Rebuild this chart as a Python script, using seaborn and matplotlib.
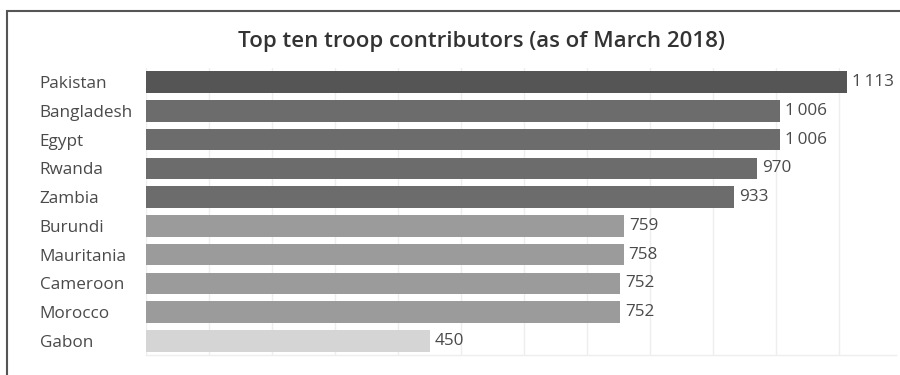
import matplotlib
matplotlib.use("Agg")
import matplotlib.pyplot as plt
import seaborn as sns
import pandas as pd
from matplotlib.patches import Rectangle

countries = ["Pakistan", "Bangladesh", "Egypt", "Rwanda", "Zambia",
             "Burundi", "Mauritania", "Cameroon", "Morocco", "Gabon"]
troops = [1113, 1006, 1006, 970, 933, 759, 758, 752, 752, 450]
groups = ["g1", "g2", "g2", "g2", "g2", "g3", "g3", "g3", "g3", "g4"]
group_colors = {"g1": "#555555", "g2": "#6c6c6c", "g3": "#9b9b9b", "g4": "#d5d5d5"}
value_labels = ["1\u2009113", "1\u2009006", "1\u2009006", "970", "933",
                "759", "758", "752", "752", "450"]
title = "Top ten troop contributors (as of March 2018)"

df = pd.DataFrame({"country": countries, "troops": troops, "group": groups})

sns.set_theme(style="white")
plt.rcParams["font.family"] = ["Open Sans", "DejaVu Sans"]

W, H = 900, 375
fig = plt.figure(figsize=(W / 100, H / 100), dpi=100)
fig.patch.set_facecolor("white")

# axes placement in pixels
left, right, top, bottom = 146, 896, 67.6, 355.4
ax = fig.add_axes([left / W, 1 - bottom / H, (right - left) / W, (bottom - top) / H])

sns.barplot(data=df, y="country", x="troops", hue="group", palette=group_colors,
            orient="h", width=0.75, dodge=False, legend=False, ax=ax,
            saturation=1, linewidth=0)

ax.set_xlim(0, 1190)
ax.set_ylim(9.5, -0.5)
ax.set_xticks(range(0, 1200, 100))
ax.xaxis.grid(True, color="#eeeeee", linewidth=1)
ax.set_axisbelow(True)
ax.tick_params(axis="x", bottom=False, labelbottom=False)
ax.tick_params(axis="y", left=False, pad=70.5, labelsize=12.3, labelcolor="#4a4a4a")
for lbl in ax.get_yticklabels():
    lbl.set_horizontalalignment("left")
ax.set_xlabel("")
ax.set_ylabel("")
for s in ["top", "right", "left"]:
    ax.spines[s].set_visible(False)
ax.spines["bottom"].set_color("#eeeeee")
ax.spines["bottom"].set_linewidth(1)

for i, (v, t) in enumerate(zip(troops, value_labels)):
    ax.annotate(t, xy=(v, i), xytext=(3.5, 0), textcoords="offset points",
                ha="left", va="center", fontsize=12.3, color="#4a4a4a",
                family=["Open Sans", "DejaVu Sans"])

fig.text(481 / W, 1 - 42 / H, title, ha="center", va="center",
         fontsize=16, fontweight="semibold", color="#333333")

# outer frame (open on right/bottom as cropped)
fig.patches.append(Rectangle((7 / W, -0.1), 1.2, (1 - 11 / H) + 0.1,
                             transform=fig.transFigure, fill=False,
                             edgecolor="#555555", linewidth=1.5))

fig.savefig("out.png", dpi=100)
